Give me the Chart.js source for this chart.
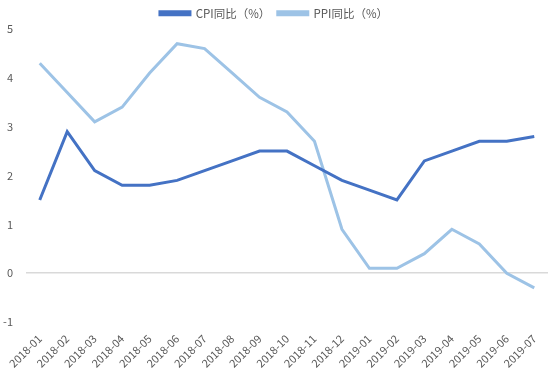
<!DOCTYPE html>
<html>
<head>
<meta charset="utf-8">
<script src="https://cdn.jsdelivr.net/npm/chart.js@4"></script>
<style>
  html, body { margin: 0; padding: 0; background: #fff; }
  #wrap { width: 559px; height: 381px; }
</style>
</head>
<body>
<div id="wrap"><canvas id="c"></canvas></div>
<script>
// months on the x axis
const months = ['2018-01','2018-02','2018-03','2018-04','2018-05','2018-06','2018-07','2018-08','2018-09','2018-10',
  '2018-11','2018-12','2019-01','2019-02','2019-03','2019-04','2019-05','2019-06','2019-07']
// CPI / PPI year on year, percent
const cpi = [1.5, 2.9, 2.1, 1.8, 1.8, 1.9, 2.1, 2.3, 2.5, 2.5, 2.2, 1.9, 1.7, 1.5, 2.3, 2.5, 2.7, 2.7, 2.8]
const ppi = [4.3, 3.7, 3.1, 3.4, 4.1, 4.7, 4.6, 4.1, 3.6, 3.3, 2.7, 0.9, 0.1, 0.1, 0.4, 0.9, 0.6, 0.0, -0.3]
const yTicks = [-1, 0, 1, 2, 3, 4, 5]

const font = { family: '"Noto Sans CJK SC", "DejaVu Sans", sans-serif', size: 11 }
const textColor = '#595959'

new Chart(document.getElementById('c'), {
  type: 'line',
  data: {
    labels: months,
    datasets: [
      { label: 'CPI同比（%）', data: cpi, borderColor: '#4472C4', backgroundColor: '#4472C4',
        borderWidth: 3, pointRadius: 0, tension: 0 },
      { label: 'PPI同比（%）', data: ppi, borderColor: '#9DC3E6', backgroundColor: '#9DC3E6',
        borderWidth: 3, pointRadius: 0, tension: 0 }
    ]
  },
  options: {
    responsive: true,
    maintainAspectRatio: false,
    animation: false,
    layout: { padding: { top: 0, right: 11, bottom: 9, left: 0 } },
    plugins: {
      legend: {
        position: 'top',
        labels: { boxWidth: 30, boxHeight: 3, color: textColor, font: { family: font.family, size: 11.5 }, padding: 7.5 }
      },
      tooltip: { enabled: false }
    },
    scales: {
      x: {
        offset: true,
        grid: { display: false },
        border: { display: false },
        ticks: { color: textColor, font: font, minRotation: 45, maxRotation: 45, autoSkip: false, padding: 2 }
      },
      y: {
        min: yTicks[0],
        max: yTicks[yTicks.length - 1],
        afterFit: (scale) => { scale.width = 26 },
        afterBuildTicks: (scale) => { scale.ticks = yTicks.map(v => ({ value: v })) },
        border: { display: false },
        grid: {
          drawTicks: false,
          lineWidth: 1.5,
          color: (ctx) => ctx.tick && ctx.tick.value === 0 ? '#d9d9d9' : 'rgba(0,0,0,0)'
        },
        ticks: { color: textColor, font: font, padding: 13 }
      }
    }
  }
})
</script>
</body>
</html>
